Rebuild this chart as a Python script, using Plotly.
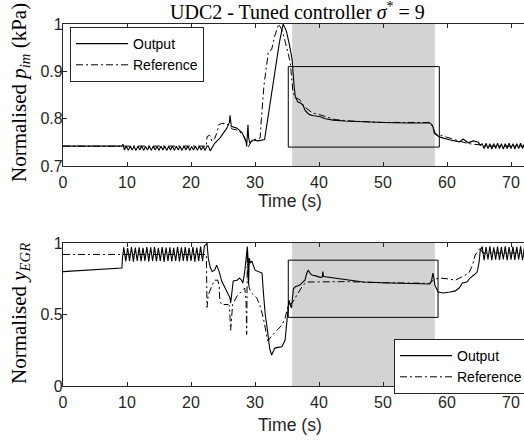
import plotly.graph_objects as go

# ---------------- data ----------------
x_ticks = [0, 10, 20, 30, 40, 50, 60, 70]
pim_ticks = [0.7, 0.8, 0.9, 1.0]
pim_tick_text = ["0.7", "0.8", "0.9", "1"]
egr_ticks = [0, 0.5, 1.0]
egr_tick_text = ["0", "0.5", "1"]

shade_span = [35.8, 58.1]
pim_box = [35.2, 58.8, 0.74, 0.91]
egr_box = [35.2, 58.6, 0.48, 0.88]

# p_im output (solid)
pim_out_t = [0, 9.2, 9.35, 9.5,
             9.6, 9.9, 10.2, 10.5, 10.8, 11.1, 11.4, 11.7, 12.0, 12.3,
             12.6, 12.9, 13.2, 13.5, 13.8, 14.1, 14.4, 14.7, 15.0, 15.3,
             15.6, 15.9, 16.2, 16.5, 16.8, 17.1, 17.4, 17.7, 18.0, 18.3,
             18.6, 18.9, 19.2, 19.5, 19.8, 20.1, 20.4, 20.7, 21.0, 21.3,
             21.6, 21.9, 22.2, 22.5,
             22.7, 23.0, 23.7, 24.5, 25.2, 25.6, 26.0, 26.1, 26.3, 27.2,
             28.0, 28.4, 28.6, 28.7, 28.8, 28.9, 29.0, 29.2, 29.7, 30.5,
             31.5, 32.0, 32.6, 33.2, 33.8, 34.4, 34.9, 35.4, 35.8, 36.1,
             36.3, 36.7, 37.1, 37.5, 37.8, 38.2, 38.6, 39.2, 40.2, 41.0,
             42.2, 44.0, 46.9, 50.0, 54.0, 57.3, 57.6, 57.8, 58.0, 58.4,
             58.9, 59.6, 60.5, 61.2, 62.0, 62.5, 62.9, 63.3, 63.7, 64.1,
             64.9, 65.2,
             65.5, 65.8, 66.1, 66.4, 66.7, 67.0, 67.3, 67.6, 67.9, 68.2,
             68.5, 68.8, 69.1, 69.4, 69.7, 70.0, 70.3, 70.6, 70.9, 71.2,
             71.5, 71.8, 72.1]
pim_out_v = [0.742, 0.742, 0.746, 0.738,
             0.734, 0.742, 0.733, 0.742, 0.734, 0.741, 0.733, 0.742, 0.734, 0.742,
             0.733, 0.741, 0.734, 0.742, 0.733, 0.742, 0.734, 0.741, 0.733, 0.742,
             0.734, 0.742, 0.733, 0.741, 0.734, 0.742, 0.733, 0.742, 0.734, 0.741,
             0.733, 0.742, 0.734, 0.742, 0.733, 0.741, 0.734, 0.742, 0.733, 0.742,
             0.734, 0.741, 0.733, 0.742,
             0.742, 0.732, 0.748, 0.759, 0.772, 0.780, 0.792, 0.807, 0.784, 0.780,
             0.770, 0.759, 0.752, 0.742, 0.765, 0.787, 0.760, 0.749, 0.755, 0.753,
             0.756, 0.800, 0.850, 0.900, 0.960, 1.000, 0.985, 0.955, 0.925, 0.870,
             0.846, 0.835, 0.833, 0.829, 0.818, 0.812, 0.808, 0.806, 0.804, 0.800,
             0.797, 0.795, 0.793, 0.792, 0.791, 0.791, 0.788, 0.783, 0.770, 0.765,
             0.761, 0.758, 0.755, 0.753, 0.751, 0.757, 0.753, 0.749, 0.751, 0.753,
             0.750, 0.744,
             0.747, 0.737, 0.748, 0.737, 0.747, 0.736, 0.747, 0.737, 0.748, 0.737,
             0.747, 0.736, 0.747, 0.737, 0.748, 0.737, 0.747, 0.736, 0.747, 0.737,
             0.748, 0.737, 0.747]

# p_im reference (dash-dot)
pim_ref_t = [0, 22.4, 22.5, 22.9, 23.3, 23.7, 24.1, 24.3, 24.8, 25.6,
             26.1, 26.5, 27.2, 28.0, 28.4, 28.7, 28.9, 29.2, 29.5, 30.3,
             30.8, 31.0, 31.4, 32.1, 32.6, 33.1, 33.7, 34.3, 35.0, 35.5,
             35.9, 36.2, 36.6, 37.0, 37.6, 38.3, 39.0, 40.2, 41.0, 42.5,
             45.0, 50.0, 57.3, 57.8, 58.2, 58.9, 59.5, 60.5, 61.5, 62.5,
             63.1, 64.1, 65.0, 66.0, 72.1]
pim_ref_v = [0.742, 0.742, 0.762, 0.765, 0.752, 0.758, 0.772, 0.787, 0.790, 0.790,
             0.782, 0.778, 0.776, 0.768, 0.759, 0.742, 0.738, 0.745, 0.755, 0.757,
             0.759, 0.800, 0.870, 0.942, 0.946, 0.975, 1.000, 0.985, 0.945, 0.920,
             0.860, 0.845, 0.843, 0.840, 0.826, 0.818, 0.812, 0.808, 0.804, 0.798,
             0.795, 0.792, 0.792, 0.782, 0.768, 0.765, 0.762, 0.758, 0.754, 0.750,
             0.748, 0.746, 0.745, 0.742, 0.742]

# y_EGR output (solid)
egr_out_t = [0, 4.0, 8.9, 9.2, 9.3,
             9.5, 9.8, 10.1, 10.4, 10.7, 11.0, 11.3, 11.6, 11.9, 12.2,
             12.5, 12.8, 13.1, 13.4, 13.7, 14.0, 14.3, 14.6, 14.9, 15.2,
             15.5, 15.8, 16.1, 16.4, 16.7, 17.0, 17.3, 17.6, 17.9, 18.2,
             18.5, 18.8, 19.1, 19.4, 19.7, 20.0, 20.3, 20.6, 20.9, 21.2,
             21.5, 21.8, 22.1,
             22.4, 22.5, 22.7, 23.0, 23.3, 23.7, 24.0, 24.4, 24.8, 25.2,
             25.6, 26.1, 26.2, 26.4, 26.6, 27.2, 27.6, 27.9, 28.1, 28.4,
             28.7, 28.8, 28.9, 29.0, 29.1, 29.3, 29.5, 30.0, 30.5, 31.1,
             31.3, 31.6, 31.9, 32.3, 32.6, 33.1, 33.6, 34.2, 34.7, 35.0,
             35.3, 35.5, 35.7, 36.0, 36.3, 36.6, 37.0, 37.3, 37.8, 38.1,
             38.3, 38.6, 38.9, 39.5, 40.2, 40.5, 40.6, 40.7, 41.5, 42.8,
             44.5, 46.9, 50.0, 52.2, 55.0, 57.3, 57.6, 57.8, 58.0, 58.1,
             58.6, 59.4, 60.5, 61.3, 61.9, 62.4, 63.1, 63.6, 64.2, 64.7,
             65.0, 65.2,
             65.5, 65.8, 66.1, 66.4, 66.7, 67.0, 67.3, 67.6, 67.9, 68.2,
             68.5, 68.8, 69.1, 69.4, 69.7, 70.0, 70.3, 70.6, 70.9, 71.2,
             71.5, 71.8, 72.1]
egr_out_v = [0.800, 0.810, 0.822, 0.825, 0.900,
             0.970, 0.872, 0.965, 0.875, 0.972, 0.870, 0.968, 0.874, 0.970, 0.872,
             0.966, 0.875, 0.972, 0.871, 0.969, 0.874, 0.971, 0.872, 0.966, 0.875,
             0.972, 0.870, 0.968, 0.874, 0.970, 0.872, 0.966, 0.875, 0.973, 0.871,
             0.969, 0.874, 0.971, 0.872, 0.967, 0.875, 0.972, 0.870, 0.968, 0.874,
             0.975, 0.872, 0.980,
             0.990, 1.000, 0.895, 0.830, 0.800, 0.810, 0.845, 0.800, 0.734, 0.700,
             0.664, 0.615, 0.580, 0.650, 0.734, 0.740, 0.755, 0.740, 0.720, 0.800,
             0.944, 0.975, 0.900, 0.710, 0.895, 0.860, 0.874, 0.810, 0.800, 0.790,
             0.660, 0.500, 0.405, 0.260, 0.217, 0.265, 0.270, 0.275, 0.320, 0.485,
             0.600, 0.570, 0.545, 0.680, 0.695, 0.700, 0.706, 0.720, 0.740, 0.790,
             0.810, 0.790, 0.776, 0.770, 0.760, 0.762, 0.800, 0.765, 0.760, 0.755,
             0.740, 0.727, 0.722, 0.720, 0.717, 0.713, 0.740, 0.790, 0.740, 0.706,
             0.657, 0.650, 0.657, 0.665, 0.685, 0.720, 0.727, 0.755, 0.776, 0.797,
             0.860, 0.950,
             0.975, 0.880, 0.972, 0.885, 0.976, 0.880, 0.970, 0.884, 0.975, 0.881,
             0.972, 0.885, 0.976, 0.880, 0.971, 0.884, 0.975, 0.881, 0.973, 0.885,
             0.976, 0.880, 0.972]

# y_EGR reference (dash-dot)
egr_ref_t = [0, 22.4, 22.5, 22.7, 23.3, 23.7, 24.2, 24.4, 24.5, 24.8,
             25.8, 26.0, 26.2, 26.4, 26.5, 27.2, 28.0, 28.4, 28.6, 28.7,
             28.75, 28.8, 28.9, 29.1, 29.5, 30.3, 30.8, 31.3, 31.9, 32.0,
             32.6, 33.4, 34.2, 34.7, 35.2, 35.8, 36.6, 37.5, 38.1, 40.6,
             44.4, 50.0, 57.3, 58.0, 58.8, 60.0, 61.3, 62.3, 63.4, 64.0,
             64.4, 65.2, 65.6, 72.1]
egr_ref_v = [0.920, 0.920, 0.550, 0.636, 0.706, 0.740, 0.740, 0.700, 0.594, 0.570,
             0.570, 0.560, 0.390, 0.500, 0.570, 0.630, 0.664, 0.685, 0.600, 0.360,
             0.600, 0.944, 0.750, 0.685, 0.650, 0.615, 0.560, 0.475, 0.336, 0.315,
             0.350, 0.385, 0.426, 0.475, 0.566, 0.580, 0.636, 0.706, 0.727, 0.727,
             0.730, 0.722, 0.718, 0.745, 0.755, 0.750, 0.740, 0.762, 0.790, 0.846,
             0.916, 0.965, 0.930, 0.930]

assert len(pim_out_t) == len(pim_out_v)
assert len(pim_ref_t) == len(pim_ref_v)
assert len(egr_out_t) == len(egr_out_v)
assert len(egr_ref_t) == len(egr_ref_v)

# ---------------- figure ----------------
W, H = 524, 443
L, R, T, B = 63, 0, 24, 57
PW, PH = W - L - R, H - T - B


def px(x):
    return (x - L) / PW


def py(y):
    return (H - B - y) / PH


SANS = "Liberation Sans, Arial, sans-serif"
SERIF = "Liberation Serif, Times New Roman, serif"
AX = "#262626"
DASHDOT = "7px,3px,2px,3px"

fig = go.Figure()
fig.add_trace(go.Scatter(x=pim_out_t, y=pim_out_v, mode="lines", name="Output",
                         line=dict(color="black", width=1.1), xaxis="x", yaxis="y",
                         legend="legend"))
fig.add_trace(go.Scatter(x=pim_ref_t, y=pim_ref_v, mode="lines", name="Reference",
                         line=dict(color="black", width=1, dash=DASHDOT), xaxis="x", yaxis="y",
                         legend="legend"))
fig.add_trace(go.Scatter(x=egr_out_t, y=egr_out_v, mode="lines", name="Output",
                         line=dict(color="black", width=1.1), xaxis="x2", yaxis="y2",
                         legend="legend2"))
fig.add_trace(go.Scatter(x=egr_ref_t, y=egr_ref_v, mode="lines", name="Reference",
                         line=dict(color="black", width=1, dash=DASHDOT), xaxis="x2", yaxis="y2",
                         legend="legend2"))

top_dom = [py(166), 1.0]
bot_dom = [0.0, py(243)]

common_x = dict(range=[0, PW / 6.4], tickvals=x_ticks, ticks="inside", ticklen=4,
                tickcolor=AX, showline=True, linecolor=AX, linewidth=1.3, mirror="ticks",
                showgrid=False, zeroline=False, automargin=False, ticklabelstandoff=2,
                tickfont=dict(family=SANS, size=16, color=AX))
common_y = dict(ticks="inside", ticklen=4, tickcolor=AX, showline=True, linecolor=AX,
                linewidth=1.3, showgrid=False, zeroline=False, automargin=False,
                ticklabelstandoff=-4,
                tickfont=dict(family=SANS, size=16, color=AX))

legend_style = dict(xanchor="left", yanchor="top", bgcolor="white", bordercolor=AX,
                    borderwidth=1, font=dict(family=SANS, size=14, color="black"),
                    tracegroupgap=0, itemwidth=52)

fig.update_layout(
    template="none",
    width=W, height=H,
    margin=dict(l=L, r=R, t=T, b=B, autoexpand=False),
    paper_bgcolor="white", plot_bgcolor="white",
    xaxis=dict(domain=[0, 1], anchor="y", **common_x),
    yaxis=dict(domain=top_dom, anchor="x", range=[0.7, 1.0], tickvals=pim_ticks,
               ticktext=pim_tick_text, **common_y),
    xaxis2=dict(domain=[0, 1], anchor="y2", **common_x),
    yaxis2=dict(domain=bot_dom, anchor="x2", range=[0, 1.0], tickvals=egr_ticks,
                ticktext=egr_tick_text, **common_y),
    legend=dict(x=px(70), y=py(27), **legend_style),
    legend2=dict(x=px(394), y=py(339), **legend_style),
    showlegend=True,
)

# shaded window and outline boxes
for xr, yr in (("x", "y domain"), ("x2", "y2 domain")):
    fig.add_shape(type="rect", xref=xr, yref=yr, x0=shade_span[0], x1=shade_span[1],
                  y0=0, y1=1, fillcolor="#d3d3d3", line=dict(width=0), layer="below")
fig.add_shape(type="rect", xref="x", yref="y", x0=pim_box[0], x1=pim_box[1],
              y0=pim_box[2], y1=pim_box[3], line=dict(color="black", width=1))
fig.add_shape(type="rect", xref="x2", yref="y2", x0=egr_box[0], x1=egr_box[1],
              y0=egr_box[2], y1=egr_box[3], line=dict(color="black", width=1))

# titles
ann = [
    dict(text="UDC2 - Tuned controller <i>σ</i><sup>*</sup> = 9", x=px(297), y=py(11),
         font=dict(family=SERIF, size=20, color="black")),
    dict(text="Time (s)", x=px(290), y=py(201), font=dict(family=SANS, size=17.6, color=AX)),
    dict(text="Time (s)", x=px(290), y=py(425), font=dict(family=SANS, size=17.6, color=AX)),
    dict(text="Normalised <i>p</i><sub><i>im</i></sub> (kPa)", x=px(20), y=py(93),
         textangle=-90, font=dict(family=SERIF, size=21, color="black")),
    dict(text="Normalised <i>y</i><sub><i>EGR</i></sub>", x=px(20), y=py(314),
         textangle=-90, font=dict(family=SERIF, size=21, color="black")),
]
for a in ann:
    fig.add_annotation(xref="paper", yref="paper", showarrow=False,
                       xanchor="center", yanchor="middle", **a)

fig.write_html("out.html", config={"displayModeBar": False},
               post_script="document.body.style.margin='0';document.body.style.overflow='hidden';")
